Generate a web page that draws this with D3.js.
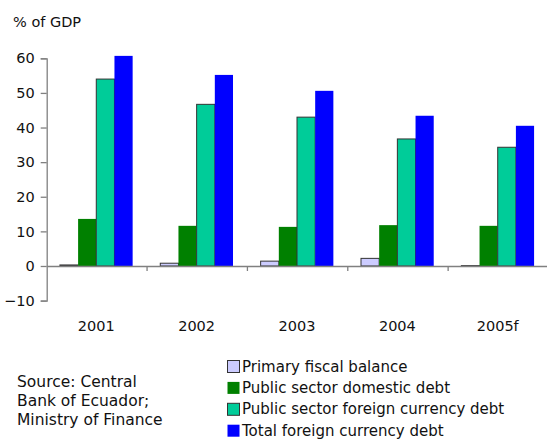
<!DOCTYPE html>
<html>
<head>
<meta charset="utf-8">
<script src="https://cdn.jsdelivr.net/npm/d3@7/dist/d3.min.js"></script>
<style>
  html, body { margin: 0; padding: 0; background: #fff; }
  svg { display: block; font-family: "DejaVu Sans", Verdana, sans-serif; }
</style>
</head>
<body>
<svg id="chart" width="547" height="439"></svg>
<script>
// Ecuador public debt indicators, % of GDP
const years = ["2001", "2002", "2003", "2004", "2005f"];
const seriesNames = [
  "Primary fiscal balance",
  "Public sector domestic debt",
  "Public sector foreign currency debt",
  "Total foreign currency debt"
];
const primaryBalance = [0.3, 0.8, 1.4, 2.2, 0.1];
const domesticDebt = [13.6, 11.6, 11.3, 11.8, 11.6];
const foreignCurrencyDebt = [54.0, 46.7, 43.0, 36.7, 34.3];
const totalForeignDebt = [60.7, 55.2, 50.6, 43.4, 40.5];
const yTicks = [-10, 0, 10, 20, 30, 40, 50, 60];

const seriesValues = [primaryBalance, domesticDebt, foreignCurrencyDebt, totalForeignDebt];
const colors = ["#ccccff", "#008000", "#00cc99", "#0000ff"];
const outlined = [true, false, true, false];

const svg = d3.select("#chart");
const axisColor = "#808080";

const x0 = d3.scaleBand().domain(years).range([46.7, 548.5]).paddingInner(0).paddingOuter(0);
const x1 = d3.scaleBand().domain(d3.range(seriesNames.length))
  .range([0, x0.bandwidth()]).paddingInner(0).paddingOuter(0.76);
const y = d3.scaleLinear().domain([-10, 60]).range([300.6, 58.3]);

// bars
const groups = svg.append("g").selectAll("g")
  .data(years).join("g")
  .attr("transform", d => `translate(${x0(d) - 0.6},0)`);

groups.selectAll("rect")
  .data((yr, i) => seriesValues.map((vals, s) => ({ s, v: vals[i] })))
  .join("rect")
  .attr("x", d => x1(d.s))
  .attr("width", x1.bandwidth())
  .attr("y", d => y(Math.max(0, d.v)))
  .attr("height", d => Math.abs(y(d.v) - y(0)))
  .attr("fill", d => colors[d.s])
  .attr("stroke", d => outlined[d.s] ? "#333" : "none")
  .attr("stroke-width", 1);

// y axis
const yAxis = svg.append("g").attr("transform", "translate(46.7,0)")
  .call(d3.axisLeft(y).tickValues(yTicks).tickSize(6).tickPadding(6).tickFormat(d3.format("d")));
yAxis.select(".domain").attr("stroke", axisColor).attr("stroke-width", 1.3);
yAxis.selectAll(".tick line").attr("stroke", axisColor).attr("stroke-width", 1.3);
yAxis.selectAll(".tick text").attr("font-size", 14.5).attr("fill", "#111")
  .attr("font-family", "DejaVu Sans, Verdana, sans-serif");

// category axis along zero
const xAxis = svg.append("g").attr("transform", `translate(0,${y(0)})`)
  .call(d3.axisBottom(x0).tickSize(0).tickSizeOuter(0).tickFormat(""));
xAxis.select(".domain").attr("stroke", axisColor).attr("stroke-width", 1.3);
xAxis.selectAll(".tick").remove();
xAxis.selectAll("line.sep")
  .data(years.slice(1))
  .join("line").attr("class", "sep")
  .attr("x1", d => x0(d)).attr("x2", d => x0(d))
  .attr("y1", 0).attr("y2", 5)
  .attr("stroke", axisColor).attr("stroke-width", 1.3);

// category labels
svg.append("g").selectAll("text")
  .data(years).join("text")
  .attr("x", d => x0(d) + x0.bandwidth() / 2 - 0.6)
  .attr("y", 331)
  .attr("text-anchor", "middle")
  .attr("font-size", 14.5)
  .attr("fill", "#111")
  .text(d => d);

// unit label
svg.append("text").attr("x", 13).attr("y", 27).attr("font-size", 14.5).attr("fill", "#111").text("% of GDP");

// source note
const src = svg.append("text").attr("x", 17).attr("font-size", 15.5).attr("fill", "#111");
["Source: Central", "Bank of Ecuador;", "Ministry of Finance"].forEach((t, i) => {
  src.append("tspan").attr("x", 17).attr("y", 387 + i * 19).text(t);
});

// legend
const legend = svg.append("g").selectAll("g")
  .data(seriesNames).join("g")
  .attr("transform", (d, i) => `translate(227,${360 + i * 21.4})`);
legend.append("rect")
  .attr("width", 12).attr("height", 12)
  .attr("x", 0.5).attr("y", 0.5)
  .attr("fill", (d, i) => colors[i])
  .attr("stroke", (d, i) => outlined[i] ? "#333" : "none");
legend.append("text")
  .attr("x", 15).attr("y", 11.5)
  .attr("font-size", 15).attr("fill", "#111")
  .text(d => d);
</script>
</body>
</html>
